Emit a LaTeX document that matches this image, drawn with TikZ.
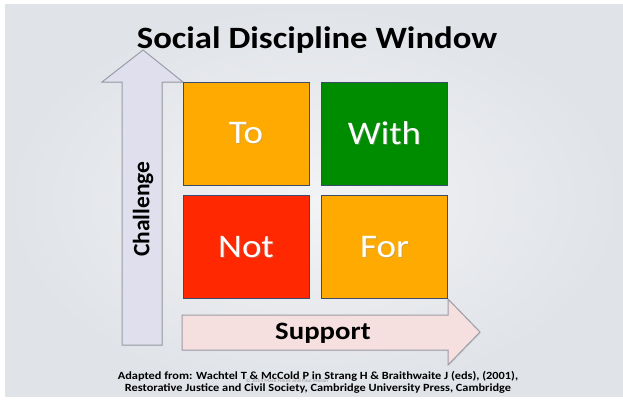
\documentclass[tikz,border=0pt]{standalone}
\usepackage{fontspec}
\setmainfont{Carlito}
\usetikzlibrary{shadows}
\definecolor{bgA}{HTML}{F2F3F5}
\definecolor{bgB}{HTML}{E0E3E8}
\definecolor{sqorange}{HTML}{FFAA00}
\definecolor{sqgreen}{HTML}{008C00}
\definecolor{sqred}{HTML}{FF2800}
\definecolor{sqborder}{HTML}{3C4C6C}
\definecolor{arrV}{HTML}{DFDFEE}
\definecolor{arrH}{HTML}{F6DFDF}
\definecolor{arrborder}{HTML}{9C9CA6}
\newcommand\wide[2]{\scalebox{#1}[1]{#2}}
\tikzset{
  square/.style={draw=sqborder, line width=1pt, minimum width=126pt, minimum height=103pt, inner sep=0pt},
  sqtext/.style={text=white, font=\fontsize{33}{36}\selectfont},
  bigarrow/.style={draw=arrborder, line width=1pt, line join=miter},
  axislabel/.style={font=\bfseries\fontsize{23.5}{26}\selectfont, text=black},
}
\begin{document}
\begin{tikzpicture}[x=1pt,y=-1pt]
\useasboundingbox (0,0) rectangle (623,400);
\fill[white] (0,0) rectangle (623,400);
\shade[inner color=bgA, outer color=bgB] (5,4) rectangle (623,396);
% title
\node[anchor=base, font=\bfseries\fontsize{31}{34}\selectfont] (title) at (317,48) {\wide{1.12}{Social Discipline Window}};
% vertical arrow
\draw[bigarrow, fill=arrV, drop shadow={opacity=0.15, shadow xshift=1pt, shadow yshift=-1pt}]
  (122,345) -- (122,82) -- (102,82) -- (143,50) -- (183,82) -- (162,82) -- (162,345) -- cycle;
\node[axislabel, rotate=90] (challenge) at (143,209) {Challenge};
% horizontal arrow
\draw[bigarrow, fill=arrH, drop shadow={opacity=0.15, shadow xshift=1pt, shadow yshift=-1pt}]
  (182,315) -- (448,315) -- (448,299) -- (480,332) -- (448,365) -- (448,350) -- (182,350) -- cycle;
\node[axislabel, font=\bfseries\fontsize{25}{28}\selectfont] (support) at (323,333) {\wide{1.15}{Support}};
% squares
\node[square, fill=sqorange] (to) at (246,133.5) {};
\node[square, fill=sqgreen] (with) at (384.5,133.5) {};
\node[square, fill=sqred] (not) at (246,247) {};
\node[square, fill=sqorange] (for) at (384.5,247) {};
\foreach \n/\t in {to/To, with/With, not/Not, for/For}{
  \node[sqtext, text=black!40, opacity=0.4] at ([xshift=1pt,yshift=-1pt]\n.center) {\wide{1.12}{\t}};
  \node[sqtext] at (\n.center) {\wide{1.12}{\t}};
}
% footnote
\node[align=center, font=\bfseries\fontsize{11}{12}\selectfont, anchor=base] (foot) at (318,391)
  {\wide{1.12}{Adapted from: Wachtel T \& McCold P in Strang H \& Braithwaite J (eds), (2001),}\\
   \wide{1.12}{Restorative Justice and Civil Society, Cambridge University Press, Cambridge}};
\node[font=\fontsize{5}{5}\selectfont, text=black!40, anchor=base] (mark) at (287,382.5) {\wide{1.12}{© 2014 Mark Finnis and Paul Moran}};
\end{tikzpicture}
\end{document}
